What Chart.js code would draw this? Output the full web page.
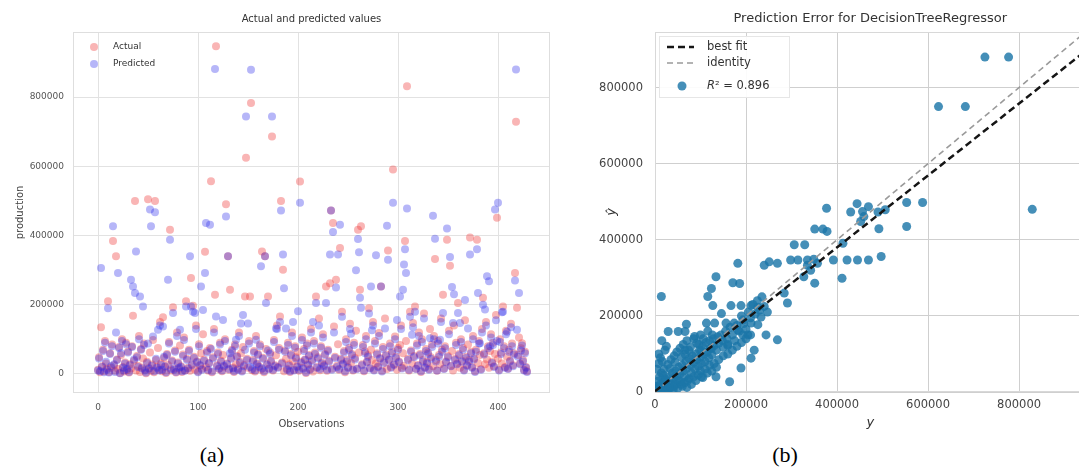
<!DOCTYPE html>
<html>
<head>
<meta charset="utf-8">
<title>Actual and predicted values / Prediction Error for DecisionTreeRegressor</title>
<script src="https://cdn.jsdelivr.net/npm/chart.js@4.4.1/dist/chart.umd.min.js"></script>
<style>
  html, body { margin:0; padding:0; background:#fff; width:1079px; height:475px; overflow:hidden; position:relative; }
  canvas { position:absolute; top:0; }
  #ca { left:0; }
  #cb { left:580px; }
  .cap { position:absolute; top:440px; width:60px; height:30px; line-height:30px; text-align:center;
         font-family:"Liberation Serif","Times New Roman",serif; font-size:22px; color:#000; }
</style>
</head>
<body>
<canvas id="ca" width="560" height="440"></canvas>
<canvas id="cb" width="510" height="440"></canvas>
<div class="cap" style="left:182px">(a)</div>
<div class="cap" style="left:755px">(b)</div>
<script>
// ---- values (production, in thousands) ----
const UNIT = 1000;
const seriesNames = ['Actual', 'Predicted'];
const obsTicks = [0, 100, 200, 300, 400];
const prodTicks = [0, 200000, 400000, 600000, 800000];
const errTicks = [0, 200000, 400000, 600000, 800000];

// panel (a): one value per observation 0..429
const actualK = [
12,48,5,135,22,70,8,95,30,15,
210,6,60,18,85,384,25,9,340,42,
14,78,3,55,100,20,7,33,90,11,
65,4,28,16,80,168,38,500,10,52,
24,110,6,72,19,45,88,13,2,35,
505,17,62,9,27,98,5,500,40,21,
75,12,150,30,8,164,46,20,3,58,
26,92,417,10,39,193,15,68,4,120,
33,14,82,22,6,56,105,11,210,44,
18,70,9,277,28,197,50,13,140,36,
7,86,24,60,15,115,41,353,20,66,
10,32,75,557,5,48,130,229,947,25,
62,14,90,38,8,55,21,100,490,30,
340,12,243,47,70,19,6,85,28,52,
15,120,35,60,9,78,26,224,625,44,
18,95,224,783,11,40,66,7,110,30,
58,22,85,13,354,47,5,340,72,29,
224,16,62,38,686,10,98,25,54,140,
20,75,166,500,33,301,8,68,44,15,
90,27,6,58,120,36,12,80,48,22,
64,9,556,35,105,18,72,42,3,88,
28,55,14,130,40,7,95,62,224,20,
48,160,11,80,33,115,26,58,253,9,
70,38,262,472,15,436,137,50,272,24,
86,12,364,44,180,30,66,5,100,40,
20,75,145,32,58,10,90,46,125,16,
417,62,243,427,28,84,8,65,110,36,
54,190,18,70,40,150,12,95,30,60,
22,118,46,253,9,78,35,160,56,14,
357,42,88,20,65,591,28,108,50,12,
75,36,84,140,18,60,24,384,95,831,
44,10,180,68,30,147,52,195,15,88,
26,120,58,6,100,40,175,20,72,34,
62,14,130,48,85,22,110,332,40,9,
95,55,28,160,70,229,16,80,36,388,
52,125,313,24,66,10,140,44,90,30,
205,58,18,100,38,75,12,155,50,26,
85,40,394,64,20,110,45,8,70,388,
32,95,55,14,130,220,60,28,150,42,
80,18,66,115,35,90,22,58,170,451,
44,12,100,62,30,195,80,20,125,50,
16,70,38,145,88,25,60,292,729,191,
55,105,30,74,89,40,12,64,20,8];

const predictedK = [
10,45,8,306,20,66,5,90,35,12,
190,4,58,22,80,427,28,6,120,40,
292,75,2,60,95,18,10,30,86,14,
62,6,25,272,78,253,42,234,354,48,
20,100,224,70,16,195,84,10,4,32,
88,15,475,427,24,108,8,467,44,18,
128,10,140,26,12,137,50,22,5,55,
272,88,388,14,36,176,12,64,6,110,
30,18,128,20,8,52,98,9,195,40,
16,66,340,195,25,180,46,176,130,34,
5,80,26,253,12,185,38,292,436,62,
12,30,431,72,7,45,120,881,166,22,
58,16,85,35,10,156,24,95,455,28,
340,14,60,44,66,16,8,80,99,50,
12,110,32,146,7,170,22,70,744,40,
146,88,20,879,14,36,62,10,99,28,
55,20,80,311,16,44,8,340,205,26,
68,14,58,35,744,12,92,22,131,130,
18,70,150,472,30,345,248,64,131,12,
84,24,8,54,110,150,10,76,45,20,
181,12,495,32,98,15,66,40,5,82,
25,52,12,120,36,150,88,58,205,18,
45,140,14,76,30,105,22,55,205,12,
66,35,345,472,12,410,120,46,250,20,
345,14,431,40,165,28,62,8,92,36,
18,70,130,116,54,12,84,42,300,14,
390,352,220,191,25,78,10,60,100,34,
50,175,16,253,126,140,10,88,343,56,
20,110,44,253,7,72,32,131,52,428,
330,40,80,18,60,495,26,100,46,156,
70,34,224,130,16,243,316,360,292,478,
40,12,165,64,113,135,48,180,14,82,
24,110,54,8,92,36,160,18,66,30,
58,12,103,44,78,457,100,391,36,10,
88,50,99,150,64,176,14,74,34,420,
48,115,338,22,251,147,230,40,84,28,
176,54,147,92,35,70,10,214,46,24,
131,36,345,60,18,100,42,6,64,360,
234,88,89,12,120,200,56,186,140,282,
74,268,80,105,32,84,20,475,155,95,
495,10,92,58,178,180,74,18,115,122,
14,64,36,135,80,22,56,270,880,128,
50,234,28,68,82,36,10,60,18,6];

// panel (b): (y, y-hat) pairs, in thousands
const errActualK = [
725,777,623,682,829,553,588,553,497,492,506,490,444,430,456,469,452,459,377,351,
369,378,306,329,392,422,445,469,298,314,335,349,413,411,351,327,342,335,357,269,
251,240,182,134,124,171,186,14,116,284,291,269,244,233,247,211,226,189,167,146,
127,113,131,156,174,211,226,193,204,218,211,189,164,102,134,69,29,51,66,87,
22,66,102,124,160,182,193,
5,8,10,12,15,18,20,22,25,28,
30,32,35,38,40,42,45,48,50,52,
55,58,60,62,65,68,70,72,75,78,
80,82,85,88,90,92,95,98,100,102,
105,108,110,112,115,118,120,122,125,128,
130,135,138,140,145,148,150,155,158,160,
165,170,175,180,185,190,195,200,205,210,
215,220,225,230,235,240,0,2,3,6,
10,14,4,8,12,20,25,30,35,40,
45,50,55,60,65,70,75,80,85,90,
95,100,105,110,115,120,125,130,135,140,
20,28,35,42,48,55,62,70,78,85,
92,100,18,24,33,44,58,66,74,96,
106,116,126,150,160,170,180,190,200,210,
15,25,8,16];
const errPredictedK = [
880,880,750,750,480,498,498,435,356,429,479,473,495,473,474,487,448,461,483,428,
428,422,387,387,347,347,347,347,347,347,347,349,391,299,286,303,320,333,338,338,
342,333,338,303,272,287,285,251,251,260,234,137,150,197,210,227,223,227,227,206,
227,181,181,181,181,181,177,150,150,110,89,63,27,40,40,178,159,159,159,146,
110,110,110,114,122,163,189,
3,12,5,20,8,25,15,35,18,10,
40,28,22,50,35,15,55,42,30,65,
48,20,70,55,40,80,62,30,88,70,
50,95,78,60,100,85,68,110,92,75,
120,100,80,130,105,90,135,115,98,140,
122,110,145,128,150,135,118,160,140,125,
170,150,135,175,160,200,180,165,210,195,
230,205,240,215,250,225,8,0,15,28,
40,50,60,75,90,5,2,8,12,5,
20,10,28,15,25,12,35,20,40,30,
45,55,38,60,50,70,55,75,65,85,
60,72,85,95,105,115,125,135,118,140,
128,150,45,30,62,78,92,100,110,125,
140,160,150,95,100,110,120,130,140,150,
135,120,100,80];

const identityX = [0, 946];
const identityY = [0, 946];
const bestFitX = [0, 946];
const bestFitY = [2, 896];
const lineLabels = ['best fit', 'identity'];
const r2Value = '0.896';

// ---- drawing ----
const FONT = "'DejaVu Sans', sans-serif";
const RED = 'rgba(238,50,50,0.36)';
const BLUE = 'rgba(40,40,235,0.34)';
const TEAL = 'rgba(28,118,168,0.82)';

const toPts = vals => vals.map((v, i) => ({ x: i, y: v * UNIT }));
const pairPts = (xs, ys) => xs.map((v, i) => ({ x: v * UNIT, y: ys[i] * UNIT }));
const fixedTicks = arr => scale => { scale.ticks = arr.map(v => ({ value: v })); };

const framePlugin = {
  id: 'frame',
  beforeDatasetsDraw(chart, args, o) {
    const { ctx, chartArea: a } = chart;
    ctx.save();
    ctx.strokeStyle = o.color; ctx.lineWidth = 1;
    ctx.strokeRect(Math.round(a.left) + 0.5, Math.round(a.top) + 0.5,
                   Math.round(a.right - a.left) - 1, Math.round(a.bottom - a.top) - 1);
    ctx.restore();
  }
};

const legendPlugin = {
  id: 'innerLegend',
  afterDatasetsDraw(chart, args, o) {
    const ctx = chart.ctx;
    ctx.save();
    if (o.box) {
      ctx.fillStyle = 'rgba(255,255,255,0.92)';
      ctx.fillRect(o.box.x, o.box.y, o.box.w, o.box.h);
      ctx.strokeStyle = o.box.stroke; ctx.lineWidth = 1;
      ctx.strokeRect(o.box.x + 0.5, o.box.y + 0.5, o.box.w, o.box.h);
    }
    ctx.textBaseline = 'middle'; ctx.textAlign = 'left';
    for (const it of o.items) {
      if (it.kind === 'point') {
        ctx.beginPath(); ctx.arc(it.x, it.y, it.r, 0, Math.PI * 2);
        ctx.fillStyle = it.color; ctx.fill();
      } else {
        ctx.setLineDash(it.dash); ctx.strokeStyle = it.color; ctx.lineWidth = it.width;
        ctx.beginPath(); ctx.moveTo(it.x0, it.y); ctx.lineTo(it.x1, it.y); ctx.stroke();
        ctx.setLineDash([]);
      }
      ctx.fillStyle = o.textColor;
      let tx = o.textX;
      if (it.italic) {
        ctx.font = 'italic ' + o.font;
        ctx.fillText(it.italic, tx, it.y);
        tx += ctx.measureText(it.italic).width;
      }
      ctx.font = o.font;
      ctx.fillText(it.text, tx, it.y);
    }
    ctx.restore();
  }
};

new Chart(document.getElementById('ca'), {
  type: 'scatter',
  data: { datasets: [
    { label: seriesNames[0], data: toPts(actualK), backgroundColor: RED, borderWidth: 0,
      pointRadius: 4, pointHoverRadius: 4, order: 2 },
    { label: seriesNames[1], data: toPts(predictedK), backgroundColor: BLUE, borderWidth: 0,
      pointRadius: 4, pointHoverRadius: 4, order: 1 }
  ]},
  options: {
    responsive: false, animation: false, events: [],
    layout: { padding: { left: 0, right: 10, top: 0, bottom: 0 } },
    plugins: {
      legend: { display: false }, tooltip: { enabled: false },
      title: { display: true, fullSize: false, text: 'Actual and predicted values', color: '#333',
               font: { family: FONT, size: 10, weight: 'normal' }, padding: { top: 13, bottom: 7 } },
      frame: { color: '#dedede' },
      innerLegend: { font: "9px 'DejaVu Sans'", textColor: '#333', textX: 113, items: [
        { kind: 'point', x: 94, y: 47, r: 4, color: RED, text: seriesNames[0] },
        { kind: 'point', x: 94, y: 64, r: 4, color: BLUE, text: seriesNames[1] } ] }
    },
    scales: {
      x: { type: 'linear', min: -25, max: 452, afterBuildTicks: fixedTicks(obsTicks),
           afterFit: s => { s.height = 47; },
           grid: { color: '#e2e2e2', drawTicks: false }, border: { display: false },
           ticks: { padding: 9, color: '#555', font: { family: FONT, size: 9 }, autoSkip: false,
                    maxRotation: 0, callback: v => String(v) },
           title: { display: true, text: 'Observations', color: '#444',
                    font: { family: FONT, size: 10 }, padding: { top: 0, bottom: 10 } } },
      y: { type: 'linear', min: -55000, max: 988000, afterBuildTicks: fixedTicks(prodTicks),
           afterFit: s => { s.width = 73; },
           grid: { color: '#e2e2e2', drawTicks: false }, border: { display: false },
           ticks: { padding: 9, color: '#555', font: { family: FONT, size: 9 }, autoSkip: false,
                    callback: v => String(v) },
           title: { display: true, text: 'production', color: '#444',
                    font: { family: FONT, size: 10 }, padding: { top: 14, bottom: 0 } } }
    }
  },
  plugins: [framePlugin, legendPlugin]
});

new Chart(document.getElementById('cb'), {
  type: 'scatter',
  data: { datasets: [
    { type: 'line', label: lineLabels[0], data: pairPts(bestFitX, bestFitY), showLine: true,
      borderColor: '#151515', borderWidth: 2.5, borderDash: [7, 4], pointRadius: 0, fill: false, order: 1 },
    { type: 'line', label: lineLabels[1], data: pairPts(identityX, identityY), showLine: true,
      borderColor: '#9a9a9a', borderWidth: 1.6, borderDash: [6, 4], pointRadius: 0, fill: false, order: 2 },
    { label: 'R² = ' + r2Value, data: pairPts(errActualK, errPredictedK), backgroundColor: TEAL,
      borderWidth: 0, pointRadius: 4.5, pointHoverRadius: 4.5, order: 3 }
  ]},
  options: {
    responsive: false, animation: false, events: [],
    layout: { padding: { left: 0, right: 2, top: 0, bottom: 0 } },
    plugins: {
      legend: { display: false }, tooltip: { enabled: false },
      title: { display: true, fullSize: false, text: 'Prediction Error for DecisionTreeRegressor', color: '#333',
               font: { family: FONT, size: 13, weight: 'normal' }, padding: { top: 11, bottom: 5.4 } },
      frame: { color: '#d8d8d8' },
      innerLegend: { font: "11.5px 'DejaVu Sans'", textColor: '#333', textX: 127,
        box: { x: 79, y: 36, w: 130, h: 61, stroke: '#e6e6e6' },
        items: [
          { kind: 'line', x0: 87, x1: 114, y: 47, color: '#151515', width: 2.5, dash: [7, 4], text: lineLabels[0] },
          { kind: 'line', x0: 87, x1: 114, y: 63, color: '#9a9a9a', width: 1.6, dash: [6, 4], text: lineLabels[1] },
          { kind: 'point', x: 102, y: 86, r: 4.5, color: TEAL, italic: 'R', text: '² = ' + r2Value } ] }
    },
    scales: {
      x: { type: 'linear', min: 0, max: 946000, afterBuildTicks: fixedTicks(errTicks),
           afterFit: s => { s.height = 48; },
           grid: { color: '#cfcfcf', drawTicks: false }, border: { display: false },
           ticks: { padding: 6, color: '#444', font: { family: FONT, size: 11.5 }, autoSkip: false,
                    maxRotation: 0, callback: v => String(v) },
           title: { display: true, text: 'y', color: '#333',
                    font: { family: FONT, size: 13, style: 'italic' }, padding: { top: 0, bottom: 10 } } },
      y: { type: 'linear', min: 0, max: 946000, afterBuildTicks: fixedTicks(errTicks),
           afterFit: s => { s.width = 75; },
           grid: { color: '#cfcfcf', drawTicks: false }, border: { display: false },
           ticks: { padding: 12, color: '#444', font: { family: FONT, size: 11.5 }, autoSkip: false,
                    callback: v => String(v) },
           title: { display: true, text: 'ŷ', color: '#333',
                    font: { family: FONT, size: 13, style: 'italic' }, padding: { top: 24, bottom: 0 } } }
    }
  },
  plugins: [framePlugin, legendPlugin]
});
</script>
</body>
</html>
